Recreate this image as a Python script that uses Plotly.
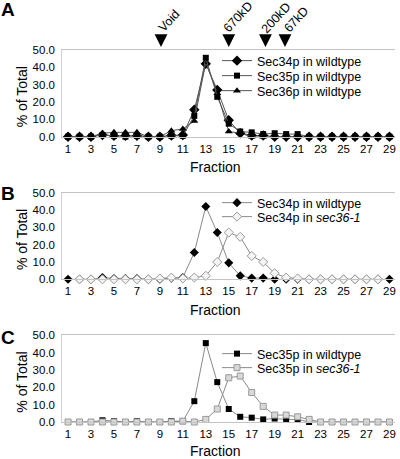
import plotly.graph_objects as go

fractions = list(range(1, 30))
tick_vals = list(range(1, 30, 2))
y_ticks = [0, 10, 20, 30, 40, 50]

# Panel A
sec34_wt = [0, 0, 0, 1, 0.5, 0.5, 0.5, 0, 0, 0.7, 1, 15.5, 42, 27, 9.5, 2, 0.7, 0.7, 0, 0, 0, 0, 0, 0, 0, 0, 0, 0, 0]
sec35_wt = [0, 0, 0, 1, 0.5, 0, 0.5, 0, 0, 0.5, 0.5, 12, 45.5, 23, 7.5, 3, 2.5, 1.5, 2, 1.5, 1.5, 0, 0, 0, 0, 0, 0, 0, 0]
sec36_wt = [0, 0, 0, 2, 2.5, 2.5, 2.5, 0, 0, 3.5, 4.5, 9, 43, 25, 3, 2, 0, 0, 0, 0, 0]
# Panel B
sec34_mut_fr = list(range(2, 29))
sec34_mut = [0, 0, 0, 0, 0, 0, 0, 0.5, 1, 0.5, 1, 2, 10, 27, 24.5, 13.5, 10, 3.5, 1, 0.5, 0, 0, 0, 0, 0, 0, 0]
# Panel C
sec35_mut = [0, 0, 0, 0, 0, 0, 0, 0, 0, 0, 0.5, 0, 1.5, 7.5, 25.5, 26.5, 17, 9, 4, 4, 3, 1.5, 0, 0, 0, 0, 0, 0, 0]

markers = ["A", "B", "C"]
arrow_labels = ["Void", "670kD", "200kD", "67kD"]
arrow_pos = [9.1, 15.0, 18.2, 19.9]

H = 459.0
def py(px):
    return 1 - px / H

panels = [(136.7, 50.0), (279.3, 192.7), (422.0, 335.3)]
xdom = [62.3 / 400, 395.2 / 400]

fig = go.Figure()
FONT = "Liberation Sans, Arial, sans-serif"
dark = "#555555"
grayline = "#8a8a8a"

# Panel A traces
fig.add_trace(go.Scatter(x=fractions, y=sec34_wt, mode="lines+markers", name="Sec34p in wildtype",
                         line=dict(color=dark, width=1), marker=dict(symbol="diamond", size=8, color="black"),
                         xaxis="x", yaxis="y", legend="legend", cliponaxis=False))
fig.add_trace(go.Scatter(x=fractions[:len(sec36_wt)], y=sec36_wt, mode="lines+markers", name="Sec36p in wildtype",
                         line=dict(color=dark, width=1), marker=dict(symbol="triangle-up", size=7, color="black"),
                         xaxis="x", yaxis="y", legend="legend3", cliponaxis=False))
fig.add_trace(go.Scatter(x=fractions, y=sec35_wt, mode="lines+markers", name="Sec35p in wildtype",
                         line=dict(color=dark, width=1), marker=dict(symbol="square", size=6, color="black"),
                         xaxis="x", yaxis="y", legend="legend2", cliponaxis=False))
# Panel B
fig.add_trace(go.Scatter(x=fractions, y=sec34_wt, mode="lines+markers", name="Sec34p in wildtype",
                         line=dict(color=grayline, width=1), marker=dict(symbol="diamond", size=7, color="black"),
                         xaxis="x2", yaxis="y2", legend="legend4", cliponaxis=False))
fig.add_trace(go.Scatter(x=sec34_mut_fr, y=sec34_mut, mode="lines+markers", name="Sec34p in <i>sec36-1</i>",
                         line=dict(color=grayline, width=1),
                         marker=dict(symbol="diamond", size=7, color="#f4f4f4", line=dict(color="#9a9a9a", width=1)),
                         xaxis="x2", yaxis="y2", legend="legend5", cliponaxis=False))
# Panel C
fig.add_trace(go.Scatter(x=fractions, y=sec35_wt, mode="lines+markers", name="Sec35p in wildtype",
                         line=dict(color=grayline, width=1), marker=dict(symbol="square", size=6, color="black"),
                         xaxis="x3", yaxis="y3", legend="legend6", cliponaxis=False))
fig.add_trace(go.Scatter(x=fractions, y=sec35_mut, mode="lines+markers", name="Sec35p in <i>sec36-1</i>",
                         line=dict(color=grayline, width=1),
                         marker=dict(symbol="square", size=6, color="#d8d8d8", line=dict(color="#9a9a9a", width=1)),
                         xaxis="x3", yaxis="y3", legend="legend7", cliponaxis=False))

layout = dict(width=400, height=459, margin=dict(l=0, r=0, t=0, b=0, autoexpand=False),
              paper_bgcolor="white", plot_bgcolor="white",
              font=dict(family=FONT, size=12, color="black"), showlegend=True)

annotations = []
for i, (ybot, ytop) in enumerate(panels):
    sfx = "" if i == 0 else str(i + 1)
    layout["xaxis" + sfx] = dict(domain=xdom, range=[0.5, 29.5], tickvals=tick_vals,
                                 ticks="outside", ticklen=1, tickcolor="rgba(0,0,0,0)",
                                 showline=True, mirror=True, linecolor="#c4c4c4", linewidth=1,
                                 showgrid=False, zeroline=False, tickfont=dict(size=11.5),
                                 anchor="y" + sfx, fixedrange=True, automargin=False)
    layout["yaxis" + sfx] = dict(domain=[py(ybot), py(ytop)], range=[0, 50], tickvals=y_ticks,
                                 tickformat=".1f", ticks="outside", ticklen=4, tickcolor="rgba(0,0,0,0)",
                                 showline=True, linecolor="#d0d0d0", linewidth=1,
                                 showgrid=False, zeroline=False, tickfont=dict(size=11.5),
                                 anchor="x" + sfx, fixedrange=True, automargin=False)
    # y title
    annotations.append(dict(text="% of Total", textangle=-90, xref="paper", yref="paper",
                            x=22 / 400, y=py((ybot + ytop) / 2 + 4), showarrow=False,
                            font=dict(size=14), xanchor="center", yanchor="middle"))
    # x title
    annotations.append(dict(text="Fraction", xref="paper", yref="paper",
                            x=215 / 400, y=py(min(ybot + 30.5, 451)), showarrow=False,
                            font=dict(size=14), xanchor="center", yanchor="middle"))
    # panel letter
    annotations.append(dict(text="<b>%s</b>" % markers[i], xref="paper", yref="paper",
                            x=8 / 400, y=py([9, 193, 337][i]), showarrow=False,
                            font=dict(size=19, family="Liberation Sans, Arial"), xanchor="center", yanchor="middle"))

# one legend per entry so rows sit where the reference has them
legend_rows = {"legend": 61, "legend2": 76, "legend3": 91,
               "legend4": 203, "legend5": 217, "legend6": 354, "legend7": 368}
for key, row in legend_rows.items():
    layout[key] = dict(x=217 / 400, xanchor="left", y=py(row), yanchor="middle",
                       bgcolor="rgba(0,0,0,0)", font=dict(size=12.5), itemwidth=30,
                       borderwidth=0)

# arrows panel A
label_centers = [(169, 21), (238, 17), (276, 18), (296, 20)]
for lab, xp, (cx, cy) in zip(arrow_labels, arrow_pos, label_centers):
    annotations.append(dict(x=xp, xref="x", y=py(47), yref="paper", text="", showarrow=True,
                            ax=0, ay=-12, arrowhead=2, arrowsize=1.6, arrowwidth=1.6, arrowcolor="black"))
    annotations.append(dict(text=lab, xref="paper", yref="paper", x=cx / 400, y=py(cy),
                            showarrow=False, textangle=-47, font=dict(size=12.5),
                            xanchor="center", yanchor="middle"))

layout["annotations"] = annotations
fig.update_layout(**layout)
fig.write_html("out.html", config={"displayModeBar": False},
               post_script="document.body.style.margin='0px';document.body.style.overflow='hidden';")
